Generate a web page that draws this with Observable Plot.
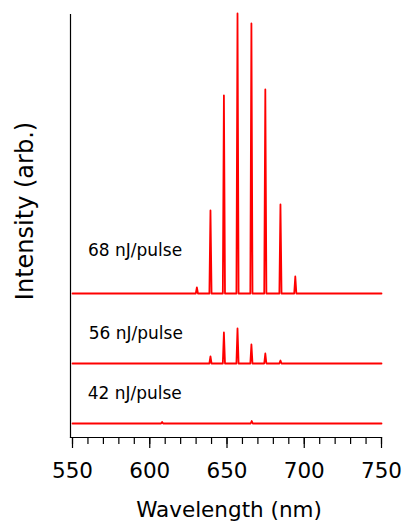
<!DOCTYPE html>
<html>
<head>
<meta charset="utf-8">
<script src="https://cdn.jsdelivr.net/npm/d3@7"></script>
<script src="https://cdn.jsdelivr.net/npm/@observablehq/plot@0.6"></script>
<style>
  html, body { margin: 0; padding: 0; background: #fff; }
  #chart svg { display: block; }
</style>
</head>
<body>
<div id="chart"></div>
<script>
// ---- data ----
const seriesNames = ["68 nJ/pulse", "56 nJ/pulse", "42 nJ/pulse"];
const seriesOffsets = [144, 74, 14];           // baseline of each stacked trace (arb.)
const labelWavelength = [560, 560.5, 559.8];   // where each label starts (nm)
const labelIntensity = [187, 104, 44];         // vertical position of each label (arb.)

const peaks68 = [630.5, 639.3, 648.0, 656.8, 665.8, 674.8, 684.6, 694.2];
const heights68 = [6, 83, 198, 280, 270, 204, 89, 17];
const peaks56 = [639.3, 648.0, 656.8, 665.8, 674.8, 684.6];
const heights56 = [7, 31, 35, 19, 10, 3];
const peaks42 = [608.0, 666.0];
const heights42 = [1.5, 2.5];

const majorTicks = [550, 600, 650, 700, 750];
const minorTicks = [550, 560, 570, 580, 590, 600, 610, 620, 630, 640, 650, 660, 670, 680, 690, 700, 710, 720, 730, 740, 750];
const xTitle = "Wavelength (nm)";
const yTitle = "Intensity (arb.)";

// ---- build line tables from the peak lists ----
const halfWidth = 0.7;
function trace(name, offset, peaks, heights) {
  const pts = [{name, x: 550, y: offset}];
  peaks.forEach((p, i) => {
    pts.push({name, x: p - halfWidth, y: offset});
    pts.push({name, x: p, y: offset + heights[i]});
    pts.push({name, x: p + halfWidth, y: offset});
  });
  pts.push({name, x: 750, y: offset});
  return pts;
}
const lines = [
  ...trace(seriesNames[0], seriesOffsets[0], peaks68, heights68),
  ...trace(seriesNames[1], seriesOffsets[1], peaks56, heights56),
  ...trace(seriesNames[2], seriesOffsets[2], peaks42, heights42)
];
const labels = seriesNames.map((t, i) => ({t, x: labelWavelength[i], y: labelIntensity[i]}));

const FONT = "DejaVu Sans, sans-serif";

const chart = Plot.plot({
  width: 404,
  height: 525,
  marginLeft: 70,
  marginRight: 23,
  marginTop: 14,
  marginBottom: 88,
  insetLeft: 2,
  style: {fontFamily: FONT, color: "#000", background: "#fff"},
  x: {domain: [550, 750]},
  y: {domain: [0, 423], axis: null},
  marks: [
    Plot.frame({anchor: "left", stroke: "#000", strokeWidth: 1.2}),
    Plot.frame({anchor: "bottom", stroke: "#000", strokeWidth: 1.2}),
    Plot.axisX({ticks: minorTicks, tickSize: 7, tickFormat: () => "", label: null, strokeWidth: 1.2}),
    Plot.axisX({ticks: majorTicks, tickSize: 11, tickPadding: 14, tickFormat: d3.format("d"),
                label: null, fontSize: 21.5, strokeWidth: 1.2}),
    Plot.line(lines, {x: "x", y: "y", z: "name", stroke: "#ff0000", strokeWidth: 1.8, curve: "linear"}),
    Plot.text(labels, {x: "x", y: "y", text: "t", textAnchor: "start", fontSize: 17, fill: "#000"}),
    Plot.text([xTitle], {frameAnchor: "bottom", text: d => d, textAnchor: "middle", lineAnchor: "middle",
                         dx: 3, dy: 73, fontSize: 21.5, fill: "#000"}),
    Plot.text([yTitle], {frameAnchor: "left", text: d => d, rotate: -90, textAnchor: "middle", lineAnchor: "middle",
                         dx: -45, dy: -15, fontSize: 24, fill: "#000"})
  ]
});
document.getElementById("chart").appendChild(chart);
</script>
</body>
</html>
